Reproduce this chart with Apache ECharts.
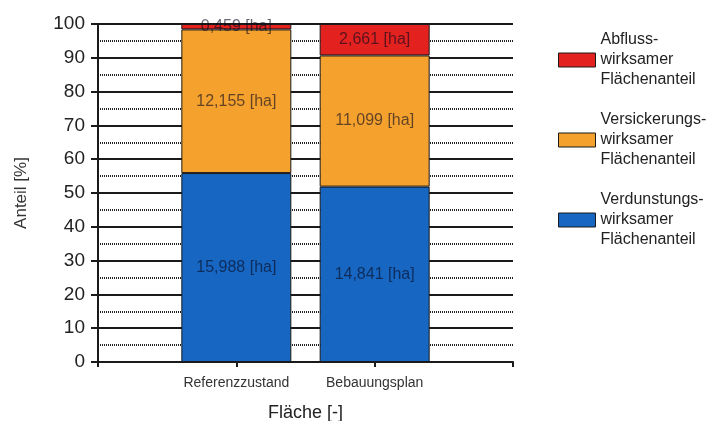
<!DOCTYPE html>
<html>
<head>
<meta charset="utf-8">
<script src="https://cdn.jsdelivr.net/npm/echarts@6/dist/echarts.min.js"></script>
<style>
  html, body { margin: 0; padding: 0; background: #ffffff; }
  #chart { width: 725px; height: 421px; }
</style>
</head>
<body>
<div id="chart"></div>
<script>
// Areas in hectares per scenario; blank slots pad the category axis on both ends
const categories = ['', 'Referenzzustand', 'Bebauungsplan', ''];
const abflussHa = [null, 0.459, 2.661, null];
const versickerungHa = [null, 12.155, 11.099, null];
const verdunstungHa = [null, 15.988, 14.841, null];
const yTicks = [0, 10, 20, 30, 40, 50, 60, 70, 80, 90, 100];

const legendNames = [
  'Abfluss-\nwirksamer\nFlächenanteil',
  'Versickerungs-\nwirksamer\nFlächenanteil',
  'Verdunstungs-\nwirksamer\nFlächenanteil'
];
const colors = { abfluss: '#e3221f', versickerung: '#f4a12e', verdunstung: '#1666c2' };

// share of each area in the scenario total, in percent
const totals = categories.map((_, i) =>
  verdunstungHa[i] == null ? null : verdunstungHa[i] + versickerungHa[i] + abflussHa[i]);
const toPct = arr => arr.map((v, i) => (v == null ? null : (v / totals[i]) * 100));

const fmtHa = v => v.toFixed(3).replace('.', ',') + ' [ha]';
const font = 'Liberation Sans, Arial, sans-serif';

function barSeries(name, ha, color) {
  return {
    name: name,
    type: 'bar',
    stack: 'anteil',
    barWidth: 110,
    data: toPct(ha),
    itemStyle: { color: color, borderColor: '#1a1a1a', borderWidth: 1 },
    label: {
      show: true,
      position: 'inside',
      fontFamily: font,
      fontSize: 16,
      color: 'rgba(10,10,30,0.62)',
      formatter: p => fmtHa(ha[p.dataIndex])
    },
    emphasis: { disabled: true }
  };
}

const chart = echarts.init(document.getElementById('chart'));
chart.setOption({
  backgroundColor: '#ffffff',
  animation: false,
  grid: { left: 98, right: 212, top: 24, bottom: 59, containLabel: false, outerBoundsMode: 'none' },
  legend: {
    orient: 'vertical',
    left: 553,
    top: 25,
    icon: 'rect',
    itemWidth: 37,
    itemHeight: 14,
    itemGap: 20,
    data: [legendNames[0], legendNames[1], legendNames[2]],
    textStyle: { fontFamily: font, fontSize: 16, color: '#222', lineHeight: 20 },
    itemStyle: { borderColor: '#1a1a1a', borderWidth: 1 },
    selectedMode: false
  },
  xAxis: {
    type: 'category',
    data: categories,
    boundaryGap: false,
    name: 'Fläche [-]',
    nameLocation: 'middle',
    nameGap: 42,
    nameTextStyle: { fontFamily: font, fontSize: 18, color: '#222' },
    axisLine: { lineStyle: { color: '#1a1a1a', width: 2 } },
    axisTick: { show: true, length: 5, lineStyle: { color: '#1a1a1a', width: 2 } },
    axisLabel: { fontFamily: font, fontSize: 14, color: '#333', margin: 14, interval: 0 },
    splitLine: { show: false }
  },
  yAxis: {
    type: 'value',
    min: yTicks[0],
    max: yTicks[yTicks.length - 1],
    interval: 10,
    name: 'Anteil [%]',
    nameLocation: 'middle',
    nameGap: 68,
    nameTextStyle: { fontFamily: font, fontSize: 17, color: '#333' },
    axisLine: { show: true, lineStyle: { color: '#1a1a1a', width: 2 } },
    axisTick: { show: true, length: 7, lineStyle: { color: '#1a1a1a', width: 2 } },
    axisLabel: { fontFamily: font, fontSize: 19, color: '#222', margin: 13 },
    splitLine: { show: true, lineStyle: { color: '#1a1a1a', width: 2 } },
    minorTick: { show: false, splitNumber: 2 },
    minorSplitLine: { show: true, lineStyle: { color: '#222', width: 2, type: [1, 1] } }
  },
  series: [
    barSeries(legendNames[2], verdunstungHa, colors.verdunstung),
    barSeries(legendNames[1], versickerungHa, colors.versickerung),
    barSeries(legendNames[0], abflussHa, colors.abfluss)
  ]
});
</script>
</body>
</html>
